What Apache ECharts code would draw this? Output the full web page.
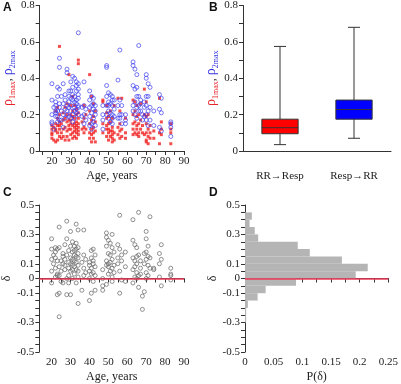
<!DOCTYPE html>
<html>
<head>
<meta charset="utf-8">
<script src="https://cdn.jsdelivr.net/npm/echarts@6.0.0/dist/echarts.min.js"></script>
<style>
  html, body { margin: 0; padding: 0; background: #fff; }
  #chart { width: 401px; height: 384px; }
</style>
</head>
<body>
<div id="chart"></div>
<script>
// one entry per subject: age, rho1max, rho2max, delta
var ages = [
  20,20,20,20,20, 21,21, 22,22,22,22,22, 23,23,23,23,23, 24,24,24,24,24,24,
  25,25,25, 26,26,26,26, 27,27,27,27, 28,28,28,28,28, 29,29,29,29,29,
  30,30,30,30,30,30, 31,31,31,31,31,31, 32,32,32,32,32,32, 33,33,33,33,33,33,33,
  34,34,34,34,34,34,34,34, 36,36, 37,37,37,37, 38,38,
  40,40,40,40,40, 41,41,41,41,41, 42,42,42,42,42, 43,43,43,43,
  47,47,47,47, 49,49,49,49,49,49, 50,50,50,50,50, 51,51,51,51,
  52,52,52,52,52,52, 53,53,53, 55,55,55, 56,56,56,56, 57,57,57, 59,59,59,
  63,63,63,63,63, 64,64,64,64, 65,65,65,65,65, 66,66,66,66, 67,67,67, 68,68,
  69,69,69, 70,70,70,70,70,70, 71,71,71,71, 72,72,72, 74,74, 77,77,77, 78,78,78,
  83,83,83,83
];
var rho1 = [
  0.10,0.07,0.14,0.12,0.09, 0.13,0.06, 0.05,0.12,0.15,0.22,0.11, 0.10,0.18,0.06,0.24,0.14, 0.575,0.16,0.12,0.08,0.20,0.14,
  0.15,0.10,0.07, 0.17,0.08,0.12,0.21, 0.18,0.13,0.06,0.24, 0.20,0.26,0.11,0.08,0.16, 0.42,0.17,0.12,0.06,0.14,
  0.20,0.15,0.09,0.25,0.12,0.17, 0.30,0.10,0.14,0.19,0.07,0.22, 0.13,0.18,0.08,0.25,0.11,0.15, 0.10,0.20,0.16,0.12,0.07,0.23,0.14,
  0.50,0.48,0.18,0.13,0.09,0.15,0.11,0.21, 0.12,0.16, 0.25,0.10,0.18,0.13, 0.12,0.20,
  0.42,0.22,0.10,0.15,0.07, 0.30,0.17,0.12,0.05,0.09, 0.26,0.13,0.10,0.07,0.19, 0.22,0.11,0.16,0.05,
  0.28,0.27,0.15,0.10, 0.25,0.18,0.12,0.08,0.14,0.21, 0.10,0.15,0.06,0.19,0.12, 0.22,0.11,0.08,0.16,
  0.13,0.09,0.05,0.18,0.11,0.07, 0.25,0.10,0.06, 0.29,0.13,0.09, 0.22,0.07,0.15,0.11, 0.29,0.12,0.08, 0.18,0.10,0.07,
  0.28,0.20,0.12,0.09,0.15, 0.27,0.10,0.16,0.22, 0.25,0.14,0.09,0.19,0.12, 0.20,0.15,0.10,0.08, 0.26,0.12,0.17, 0.10,0.14,
  0.34,0.20,0.09, 0.27,0.15,0.10,0.06,0.19,0.05, 0.20,0.08,0.12,0.04, 0.14,0.10,0.07, 0.07,0.11, 0.29,0.10,0.04, 0.09,0.12,0.16,
  0.15,0.10,0.04,0.12
];
var rho2 = [
  0.37,0.20,0.28,0.16,0.15, 0.24,0.12, 0.27,0.25,0.22,0.19,0.21, 0.35,0.30,0.22,0.16,0.19, 0.51,0.46,0.34,0.26,0.24,0.17,
  0.30,0.22,0.17, 0.37,0.26,0.20,0.13, 0.31,0.28,0.23,0.18, 0.45,0.43,0.25,0.20,0.22, 0.30,0.27,0.24,0.33,0.19,
  0.38,0.29,0.22,0.18,0.33,0.25, 0.41,0.35,0.28,0.20,0.16,0.31, 0.40,0.30,0.24,0.22,0.27,0.18, 0.38,0.36,0.33,0.26,0.21,0.28,0.23,
  0.65,0.37,0.34,0.29,0.24,0.20,0.31,0.25, 0.24,0.19, 0.38,0.25,0.20,0.15, 0.23,0.17,
  0.33,0.28,0.24,0.19,0.14, 0.30,0.25,0.21,0.15,0.12, 0.29,0.23,0.18,0.16,0.26, 0.25,0.20,0.14,0.22,
  0.25,0.20,0.17,0.12, 0.47,0.46,0.36,0.30,0.20,0.25, 0.32,0.27,0.22,0.18,0.25, 0.31,0.26,0.21,0.16,
  0.30,0.25,0.20,0.28,0.18,0.15, 0.28,0.23,0.19, 0.39,0.25,0.18, 0.555,0.28,0.20,0.18, 0.25,0.20,0.15, 0.20,0.17,0.15,
  0.49,0.47,0.36,0.25,0.22, 0.45,0.34,0.27,0.20, 0.42,0.35,0.30,0.24,0.18, 0.58,0.30,0.25,0.22, 0.28,0.22,0.26, 0.20,0.17,
  0.27,0.24,0.19, 0.42,0.40,0.30,0.25,0.20,0.17, 0.37,0.30,0.22,0.14, 0.35,0.24,0.17, 0.22,0.14, 0.31,0.23,0.13, 0.29,0.21,0.11,
  0.16,0.13,0.08,0.15
];
var delta = [
  0.27,0.13,0.20,-0.03,0.05, 0.16,0.10, 0.21,0.14,0.07,0.01,0.18, 0.20,0.12,0.02,-0.11,0.03, 0.35,-0.26,0.21,-0.10,0.02,0.08,
  0.05,0.12,-0.02, 0.15,0.17,0.10,-0.03, 0.13,0.23,0.06,0.09, 0.39,0.27,0.16,0.00,-0.11, 0.07,0.11,-0.03,0.19,0.02,
  0.32,0.22,0.10,-0.11,0.05,0.14, 0.25,0.18,0.09,0.00,0.13,0.06, 0.22,0.16,0.12,0.03,0.19,0.08, 0.37,0.24,0.20,0.15,0.11,-0.03,0.06,
  0.33,0.21,0.17,0.14,0.09,0.05,-0.17,0.01, 0.11,-0.08, 0.33,0.16,0.07,0.02, 0.13,0.04,
  0.11,-0.15,0.05,0.09,0.00, 0.19,0.14,0.07,-0.10,0.03, 0.20,0.10,0.04,-0.02,0.12, 0.16,0.08,-0.08,0.02,
  0.06,-0.05,-0.08,0.00, 0.31,0.28,0.22,0.12,0.09,-0.04, 0.26,0.17,0.10,0.03,0.08, 0.24,0.16,0.11,0.05,
  0.30,0.21,0.13,0.07,-0.02,0.01, 0.18,0.09,0.04, 0.23,0.14,0.10, 0.43,0.20,0.05,-0.10, 0.16,0.12,-0.01, 0.18,0.08,-0.02,
  0.40,0.26,0.14,0.06,-0.03, 0.23,0.12,0.08,0.01, 0.21,0.15,0.10,0.04,0.00, 0.45,0.16,0.02,-0.06, 0.12,0.07,0.03, -0.21,-0.12,
  0.17,0.10,-0.09, 0.32,0.27,0.18,0.13,0.04,0.00, 0.22,0.15,0.09,0.02, 0.42,0.14,0.07, 0.07,0.06, 0.17,0.10,0.01, 0.23,0.13,-0.05,
  0.07,0.03,0.02,-0.01
];

// panel B: min, Q1, median, Q3, max
var boxCategories = ['RR\u2192Resp', 'Resp\u2192RR'];
var boxStats = [
  [0.035, 0.095, 0.128, 0.175, 0.575],
  [0.07, 0.175, 0.228, 0.28, 0.68]
];
var boxColors = ['#ff0000', '#0000ff'];

// panel D: histogram of delta
var binLow  = [0.40, 0.35, 0.30, 0.25, 0.20, 0.15, 0.10, 0.05, 0.00, -0.05, -0.10, -0.15, -0.20, -0.25, -0.30];
var binHigh = [0.45, 0.40, 0.35, 0.30, 0.25, 0.20, 0.15, 0.10, 0.05, 0.00, -0.05, -0.10, -0.15, -0.20, -0.25];
var binProb = [0.012, 0.008, 0.017, 0.023, 0.092, 0.113, 0.169, 0.214, 0.193, 0.089, 0.036, 0.022, 0.005, 0.002, 0.002];

// tick / label values
var ageTicks = [15, 20, 25, 30, 35, 40, 45, 50, 55, 60, 65, 70, 75, 80, 85, 90];
var ageLabels = [20, 30, 40, 50, 60, 70, 80, 90];
var rhoTicks = [0, 0.1, 0.2, 0.3, 0.4, 0.5, 0.6, 0.7, 0.8];
var rhoLabels = [0, 0.2, 0.4, 0.6, 0.8];
var deltaTicks = [-0.5, -0.45, -0.4, -0.35, -0.3, -0.25, -0.2, -0.15, -0.1, -0.05, 0, 0.05, 0.1, 0.15, 0.2, 0.25, 0.3, 0.35, 0.4, 0.45, 0.5];
var deltaLabels = [-0.5, -0.3, -0.1, 0, 0.1, 0.3, 0.5];
var probTicks = [0, 0.025, 0.05, 0.075, 0.1, 0.125, 0.15, 0.175, 0.2, 0.225, 0.25];
var probLabels = [0, 0.05, 0.1, 0.15, 0.2, 0.25];

var SERIF = '"Liberation Serif", "Times New Roman", serif';
var AXIS_COLOR = '#333';

function valueAxis(gridIndex, min, max, ticks, labels, extra) {
    var ax = {
        type: 'value',
        gridIndex: gridIndex,
        min: min,
        max: max,
        axisLine: { show: true, lineStyle: { color: AXIS_COLOR, width: 1 } },
        axisTick: { show: true, length: 4, customValues: ticks, lineStyle: { color: AXIS_COLOR } },
        axisLabel: { customValues: labels, color: '#222', fontFamily: SERIF, fontSize: 11, margin: 5 },
        splitLine: { show: false },
        nameTextStyle: { color: '#222', fontFamily: SERIF, fontSize: 12 }
    };
    for (var k in extra) ax[k] = extra[k];
    return ax;
}

var rhoName = {
    name: '{r|\u03c1}{rs|1max}{k|, }{b|\u03c1}{bs|2max}',
    nameLocation: 'middle',
    nameRotate: 90,
    nameGap: 18,
    nameTextStyle: {
        rich: {
            r: { color: '#e8232a', fontFamily: SERIF, fontSize: 14, lineHeight: 18 },
            rs: { color: '#e8232a', fontFamily: SERIF, fontSize: 8, verticalAlign: 'bottom', lineHeight: 14 },
            k: { color: '#222', fontFamily: SERIF, fontSize: 12, lineHeight: 18 },
            b: { color: '#3333e0', fontFamily: SERIF, fontSize: 14, lineHeight: 18 },
            bs: { color: '#3333e0', fontFamily: SERIF, fontSize: 8, verticalAlign: 'bottom', lineHeight: 14 }
        }
    }
};

var option = {
    animation: false,
    backgroundColor: '#fff',
    graphic: [
        { type: 'text', left: 3, top: 2, style: { text: 'A', font: 'bold 12px "Liberation Sans", Arial', fill: '#111' } },
        { type: 'text', left: 209, top: 2, style: { text: 'B', font: 'bold 12px "Liberation Sans", Arial', fill: '#111' } },
        { type: 'text', left: 3, top: 187, style: { text: 'C', font: 'bold 12px "Liberation Sans", Arial', fill: '#111' } },
        { type: 'text', left: 209, top: 187, style: { text: 'D', font: 'bold 12px "Liberation Sans", Arial', fill: '#111' } }
    ],
    grid: [
        { left: 35, top: 5, width: 149, height: 146 },
        { left: 243, top: 5, width: 148, height: 146 },
        { left: 36, top: 205, width: 148, height: 148 },
        { left: 245, top: 205, width: 146.5, height: 148 }
    ],
    xAxis: [
        valueAxis(0, 13.5, 90, ageTicks, ageLabels, { name: 'Age, years', nameLocation: 'middle', nameGap: 19 }),
        {
            type: 'category',
            gridIndex: 1,
            data: boxCategories,
            axisLine: { show: true, lineStyle: { color: AXIS_COLOR, width: 1 } },
            axisTick: { show: false },
            axisLabel: { color: '#222', fontFamily: SERIF, fontSize: 11, margin: 20 }
        },
        valueAxis(2, 13.5, 90, ageTicks, ageLabels, { name: 'Age, years', nameLocation: 'middle', nameGap: 19 }),
        valueAxis(3, 0, 0.25, probTicks, probLabels, { name: 'P(\u03b4)', nameLocation: 'middle', nameGap: 19 })
    ],
    yAxis: [
        valueAxis(0, 0, 0.8, rhoTicks, rhoLabels, rhoName),
        valueAxis(1, 0, 0.8, rhoTicks, rhoLabels, rhoName),
        valueAxis(2, -0.5, 0.5, deltaTicks, deltaLabels, { name: '\u03b4', nameLocation: 'middle', nameRotate: 90, nameGap: 24 }),
        valueAxis(3, -0.5, 0.5, deltaTicks, deltaLabels, { name: '\u03b4', nameLocation: 'middle', nameRotate: 90, nameGap: 22 })
    ],
    series: [
        {
            type: 'scatter',
            xAxisIndex: 0, yAxisIndex: 0,
            symbol: 'rect',
            symbolSize: 3,
            itemStyle: { color: '#f02020' },
            data: ages.map(function (a, i) { return [a, rho1[i]]; })
        },
        {
            type: 'scatter',
            xAxisIndex: 0, yAxisIndex: 0,
            symbol: 'circle',
            symbolSize: 4,
            itemStyle: { color: 'rgba(0,0,0,0)', borderColor: '#4040ee', borderWidth: 0.9 },
            data: ages.map(function (a, i) { return [a, rho2[i]]; })
        },
        {
            type: 'custom',
            xAxisIndex: 1, yAxisIndex: 1,
            data: boxStats.map(function (s, i) { return [i].concat(s); }),
            renderItem: function (params, api) {
                var idx = api.value(0);
                var pMin = api.coord([idx, api.value(1)]);
                var pQ1 = api.coord([idx, api.value(2)]);
                var pMed = api.coord([idx, api.value(3)]);
                var pQ3 = api.coord([idx, api.value(4)]);
                var pMax = api.coord([idx, api.value(5)]);
                var band = api.size([1, 0])[0];
                var half = band * 0.245;
                var cap = 6;
                var cx = pMin[0];
                var line = { stroke: '#333', lineWidth: 1 };
                return {
                    type: 'group',
                    children: [
                        { type: 'line', shape: { x1: cx, y1: pMax[1], x2: cx, y2: pQ3[1] }, style: line },
                        { type: 'line', shape: { x1: cx, y1: pQ1[1], x2: cx, y2: pMin[1] }, style: line },
                        { type: 'line', shape: { x1: cx - cap, y1: pMax[1], x2: cx + cap, y2: pMax[1] }, style: line },
                        { type: 'line', shape: { x1: cx - cap, y1: pMin[1], x2: cx + cap, y2: pMin[1] }, style: line },
                        { type: 'rect', shape: { x: cx - half, y: pQ3[1], width: half * 2, height: pQ1[1] - pQ3[1] },
                          style: { fill: boxColors[params.dataIndex], stroke: '#333', lineWidth: 1 } },
                        { type: 'line', shape: { x1: cx - half, y1: pMed[1], x2: cx + half, y2: pMed[1] }, style: line }
                    ]
                };
            }
        },
        {
            type: 'scatter',
            xAxisIndex: 2, yAxisIndex: 2,
            symbol: 'circle',
            symbolSize: 4,
            itemStyle: { color: 'rgba(0,0,0,0)', borderColor: '#666', borderWidth: 0.9 },
            data: ages.map(function (a, i) { return [a, delta[i]]; }),
            markLine: {
                silent: true,
                symbol: 'none',
                label: { show: false },
                lineStyle: { color: '#ee3d5a', width: 1.5, type: 'solid' },
                data: [{ yAxis: 0 }]
            }
        },
        {
            type: 'custom',
            xAxisIndex: 3, yAxisIndex: 3,
            data: binProb.map(function (p, i) { return [binLow[i], binHigh[i], p]; }),
            renderItem: function (params, api) {
                var a = api.coord([0, api.value(1)]);
                var b = api.coord([api.value(2), api.value(0)]);
                return {
                    type: 'rect',
                    shape: { x: a[0], y: a[1], width: b[0] - a[0], height: b[1] - a[1] },
                    style: { fill: '#b5b5b5' }
                };
            },
            markLine: {
                silent: true,
                symbol: 'none',
                label: { show: false },
                lineStyle: { color: '#ee3d5a', width: 1.5, type: 'solid' },
                data: [{ yAxis: 0 }]
            }
        }
    ]
};

var chart = echarts.init(document.getElementById('chart'));
chart.setOption(option);
</script>
</body>
</html>
